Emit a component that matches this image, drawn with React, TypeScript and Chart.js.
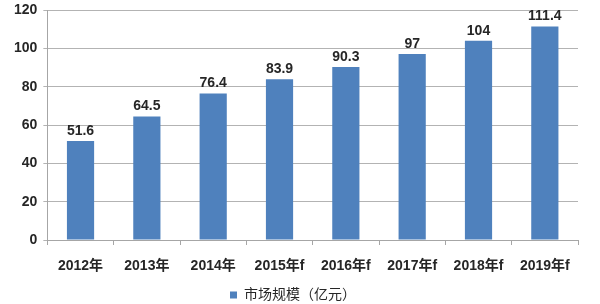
import React, { useEffect, useRef } from "react";
import { Chart, registerables } from "chart.js";

Chart.register(...registerables);

const categories = ["2012年", "2013年", "2014年", "2015年f", "2016年f", "2017年f", "2018年f", "2019年f"];
const marketSize = [51.6, 64.5, 76.4, 83.9, 90.3, 97, 104, 111.4];
const seriesName = "市场规模（亿元）";
const yTicks = [0, 20, 40, 60, 80, 100, 120];

const FONT = "'Liberation Sans', 'Noto Sans CJK SC', sans-serif";
const TEXT = "#262626";

const valueLabels = {
  id: "valueLabels",
  afterDatasetsDraw(chart: any) {
    const ctx = chart.ctx;
    const meta = chart.getDatasetMeta(0);
    ctx.save();
    ctx.font = `bold 14px ${FONT}`;
    ctx.fillStyle = TEXT;
    ctx.textAlign = "center";
    ctx.textBaseline = "bottom";
    meta.data.forEach((el: any, i: number) => {
      const v = chart.data.datasets[0].data[i];
      ctx.fillText(String(v), el.x, el.y - 3);
    });
    ctx.restore();
  },
};

export default function App() {
  const ref = useRef<HTMLCanvasElement | null>(null);
  useEffect(() => {
    document.body.style.margin = "0";
    const chart = new Chart(ref.current!, {
      type: "bar",
      data: {
        labels: categories,
        datasets: [
          {
            label: seriesName,
            data: marketSize,
            backgroundColor: "#4F81BD",
            barPercentage: 0.41,
            categoryPercentage: 1,
          },
        ],
      },
      options: {
        animation: false,
        responsive: false,
        maintainAspectRatio: false,
        layout: { padding: { top: 10, right: 22, left: 8, bottom: -8 } },
        plugins: {
          legend: {
            position: "bottom",
            labels: {
              boxWidth: 7,
              boxHeight: 7,
              color: TEXT,
              font: { family: FONT, size: 14 },
              padding: 4,
            },
          },
          tooltip: { enabled: false },
        },
        scales: {
          x: {
            grid: {
              offset: true,
              drawOnChartArea: false,
              drawTicks: true,
              tickLength: 5,
              color: "#a6a6a6",
            },
            border: { color: "#a6a6a6" },
            ticks: { color: TEXT, font: { family: FONT, size: 14, weight: "bold" }, padding: 13 },
            afterFit: (scale: any) => {
              scale.height = 44;
            },
          },
          y: {
            min: 0,
            max: 120,
            afterBuildTicks: (axis: any) => {
              axis.ticks = yTicks.map((v) => ({ value: v }));
            },
            afterFit: (scale: any) => {
              scale.paddingTop = 0;
            },
            grid: { color: "#b3b3b3", tickLength: 4 },
            border: { color: "#a6a6a6" },
            ticks: { color: TEXT, font: { family: FONT, size: 14, weight: "bold" }, padding: 6 },
          },
        },
      },
      plugins: [valueLabels],
    });
    return () => chart.destroy();
  }, []);
  return (
    <div style={{ width: 600, height: 304 }}>
      <canvas ref={ref} width={600} height={304} />
    </div>
  );
}
